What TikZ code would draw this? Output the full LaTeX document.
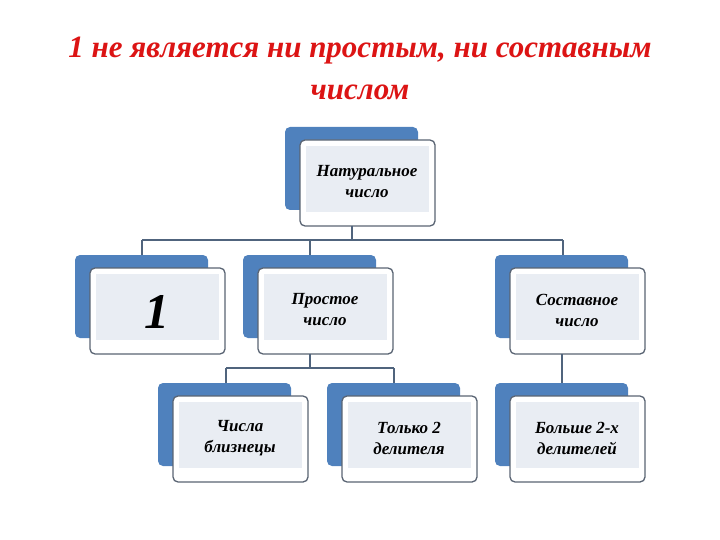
\documentclass[tikz,border=0pt]{standalone}
\usepackage{fontspec}
\setmainfont{Liberation Serif}
\begin{document}
\begin{tikzpicture}[x=1pt,y=-1pt,
  back/.style={fill={rgb,255:red,79;green,129;blue,189}, rounded corners=5pt},
  front/.style={draw={rgb,255:red,90;green,100;blue,115}, line width=1.3pt, fill=white, rounded corners=5pt},
  inner/.style={fill={rgb,255:red,233;green,237;blue,243}},
  lbl/.style={font=\bfseries\itshape\fontsize{17}{21}\selectfont, align=center},
  con/.style={draw={rgb,255:red,80;green,100;blue,125}, line width=1.6pt}]
\useasboundingbox (0,0) rectangle (720,540);
\node[text={rgb,255:red,220;green,20;blue,20}, font=\bfseries\itshape\fontsize{31}{42}\selectfont, align=center] (title) at (360,68) {1 не является ни простым, ни составным\\числом};
\newcommand\mybox[4]{%
  \fill[back] (#1-15,#2-13) rectangle (#1+118,#2+70);
  \draw[front] (#1,#2) rectangle (#1+135,#2+86);
  \fill[inner] (#1+6,#2+6) rectangle (#1+129,#2+72);
  \node[lbl] (#3) at (#1+67,#2+42) {#4};
  \coordinate (#3t) at (#1+52,#2-13);
  \coordinate (#3b) at (#1+52,#2+86);}
\mybox{300}{140}{nat}{Натуральное\\число}
\mybox{90}{268}{one}{}
\node[font=\bfseries\itshape\fontsize{50}{50}\selectfont] at (157,312) {1};
\mybox{258}{268}{pr}{Простое\\число}
\mybox{510}{268}{sos}{Составное\\число}
\mybox{173}{396}{bl}{Числа\\близнецы}
\mybox{342}{396}{two}{Только 2\\делителя}
\mybox{510}{396}{big}{Больше 2-х\\делителей}
\coordinate (h1) at (142,240); \coordinate (h2) at (563,240);
\coordinate (g1) at (226,368); \coordinate (g2) at (394,368);
\draw[con] (natb) -- (natb|-h1);
\draw[con] (h1) -- (h2);
\draw[con] (h1) -- (h1|-onet);
\draw[con] (prt|-h1) -- (prt);
\draw[con] (h2) -- (h2|-sost);
\draw[con] (prb) -- (prb|-g1);
\draw[con] (g1) -- (g2);
\draw[con] (g1) -- (g1|-blt);
\draw[con] (g2) -- (g2|-twot);
\draw[con] (sosb) -- (bigt);
\end{tikzpicture}
\end{document}
